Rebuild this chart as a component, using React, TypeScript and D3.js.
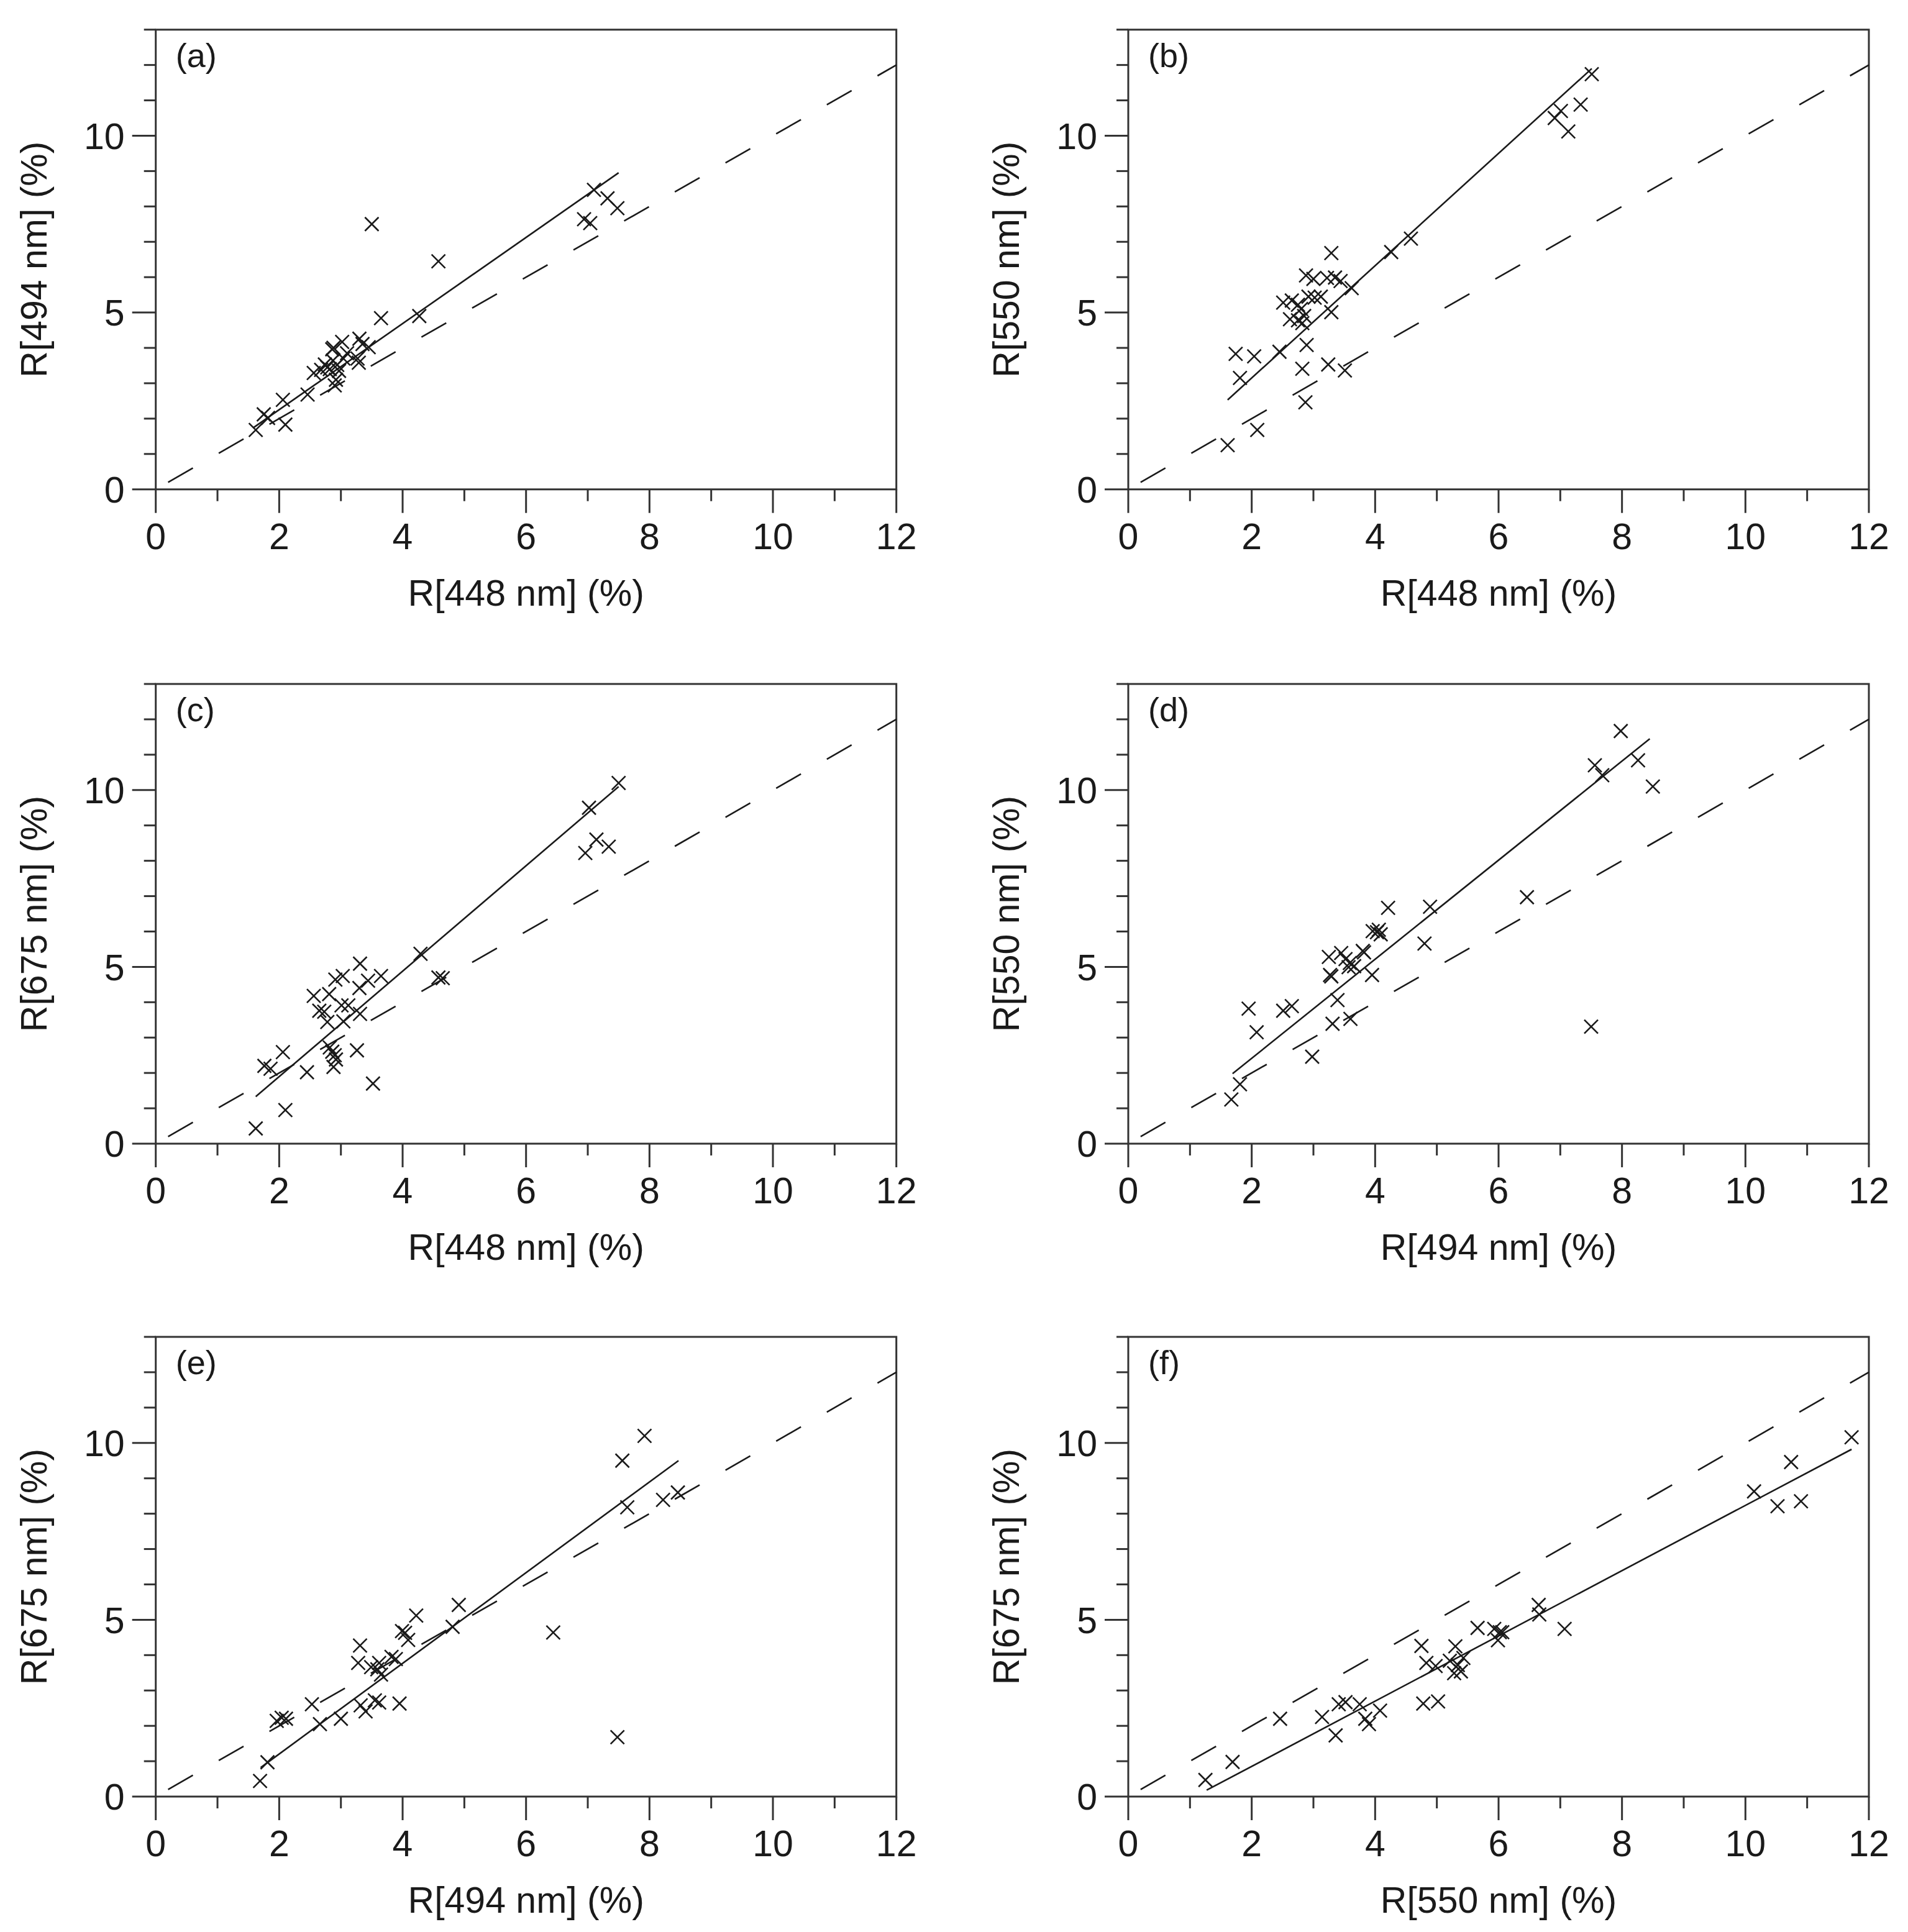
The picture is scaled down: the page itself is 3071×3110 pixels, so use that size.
import * as d3 from "d3";

// reflectance pairs, [x, y] in %
const pointsA: [number, number][] = [
  [1.62, 1.68], [1.75, 2.12], [1.82, 2.02], [2.1, 1.83], [2.06, 2.53], [2.46, 2.68],
  [2.56, 3.29], [2.9, 2.94], [2.68, 3.38], [2.74, 3.53], [2.82, 3.4], [2.86, 3.96],
  [2.87, 3.64], [2.94, 3.52], [2.97, 3.35], [3.02, 4.17], [3.04, 3.7], [3.27, 3.7],
  [3.29, 3.58], [3.3, 4.26], [3.35, 4.11], [3.45, 4.02], [2.78, 3.45], [2.92, 3.1],
  [2.88, 4.0], [3.1, 3.85], [3.65, 4.84], [4.27, 4.9], [3.5, 7.5], [4.58, 6.45],
  [6.94, 7.64], [7.04, 7.53], [7.1, 8.47], [7.32, 8.23], [7.48, 7.95],
];

const pointsB: [number, number][] = [
  [1.61, 1.25], [2.09, 1.68], [1.74, 3.83], [1.81, 3.15], [2.04, 3.76], [2.45, 3.89],
  [2.89, 4.08], [2.82, 3.41], [2.87, 2.46], [3.24, 3.53], [3.51, 3.36], [3.29, 5.01],
  [3.62, 5.69], [3.29, 6.68], [4.26, 6.71], [4.58, 7.09], [2.88, 6.05], [3.0, 5.95],
  [3.22, 5.98], [3.35, 5.99], [3.44, 5.89], [2.51, 5.28], [2.65, 5.34], [2.75, 5.22],
  [2.92, 5.45], [3.02, 5.42], [3.12, 5.45], [2.62, 4.81], [2.75, 4.78], [2.82, 4.7],
  [2.85, 4.9], [2.8, 5.1], [6.91, 10.5], [7.01, 10.7], [7.13, 10.12], [7.33, 10.88],
  [7.51, 11.74],
];

const pointsC: [number, number][] = [
  [1.62, 0.43], [2.1, 0.95], [1.76, 2.2], [1.86, 2.12], [2.06, 2.59], [2.45, 2.02],
  [2.82, 2.72], [2.86, 2.6], [2.9, 2.5], [2.92, 2.38], [2.88, 2.17], [3.26, 2.64],
  [3.52, 1.7], [2.56, 4.18], [2.81, 4.23], [2.91, 4.64], [3.03, 4.74], [3.31, 5.09],
  [3.3, 4.4], [3.44, 4.61], [3.65, 4.74], [2.65, 3.76], [2.73, 3.73], [2.78, 3.44],
  [3.01, 3.91], [3.12, 3.91], [3.04, 3.46], [3.31, 3.67], [4.29, 5.37], [4.58, 4.7],
  [4.65, 4.68], [7.02, 9.5], [7.5, 10.2], [6.96, 8.22], [7.14, 8.6], [7.34, 8.4],
];

const pointsD: [number, number][] = [
  [1.67, 1.25], [1.81, 1.68], [1.95, 3.82], [2.08, 3.15], [2.51, 3.76], [2.65, 3.89],
  [2.98, 2.46], [3.39, 4.06], [3.31, 3.39], [3.6, 3.53], [3.27, 4.77], [3.29, 4.73],
  [3.95, 4.77], [3.25, 5.28], [3.45, 5.39], [3.52, 5.22], [3.59, 5.11], [3.57, 4.99],
  [3.66, 5.02], [3.82, 5.41], [3.8, 5.45], [3.96, 6.01], [4.03, 5.98], [4.09, 5.92],
  [4.06, 6.05], [4.21, 6.67], [4.89, 6.7], [4.8, 5.66], [7.56, 10.7], [7.68, 10.42],
  [7.98, 11.67], [8.26, 10.84], [8.5, 10.1], [7.5, 3.31], [6.46, 6.97],
];

const pointsE: [number, number][] = [
  [1.69, 0.44], [1.81, 0.97], [1.96, 2.14], [2.04, 2.23], [2.11, 2.2], [2.53, 2.61],
  [2.66, 2.05], [3.0, 2.2], [3.31, 4.27], [3.28, 3.78], [3.32, 2.58], [3.4, 2.41],
  [3.55, 2.72], [3.62, 2.66], [3.95, 2.63], [3.49, 3.66], [3.59, 3.6], [3.65, 3.45],
  [3.62, 3.78], [3.82, 3.95], [3.89, 3.89], [3.99, 4.68], [4.04, 4.63], [4.09, 4.43],
  [4.22, 5.12], [4.81, 4.8], [4.91, 5.42], [6.44, 4.64], [7.48, 1.68], [7.56, 9.5],
  [7.92, 10.2], [7.64, 8.18], [8.22, 8.39], [8.46, 8.6],
];

const pointsF: [number, number][] = [
  [1.25, 0.47], [1.69, 0.98], [2.46, 2.2], [3.14, 2.25], [3.36, 1.73], [3.41, 2.61],
  [3.52, 2.67], [3.75, 2.61], [3.84, 2.2], [3.9, 2.05], [4.08, 2.43], [4.78, 2.63],
  [5.02, 2.69], [4.75, 4.26], [4.83, 3.78], [4.98, 3.69], [5.3, 4.25], [5.21, 3.84],
  [5.34, 3.72], [5.28, 3.49], [5.39, 3.54], [5.43, 3.92], [5.66, 4.77], [5.93, 4.74],
  [6.02, 4.65], [5.99, 4.42], [6.06, 4.65], [6.65, 5.42], [6.66, 5.15], [7.07, 4.74],
  [10.14, 8.63], [10.52, 8.21], [10.74, 9.46], [10.9, 8.35], [11.72, 10.16],
];

// regression lines: [slope, intercept, xFrom, xTo]
const fits: [number, number, number, number][] = [
  [1.218, -0.184, 1.58, 7.5],
  [1.588, -0.027, 1.61, 7.51],
  [1.491, -1.086, 1.62, 7.5],
  [1.401, -0.388, 1.69, 8.45],
  [1.282, -1.36, 1.7, 8.47],
  [0.9225, -0.991, 1.27, 11.72],
];

const oneToOne: [number, number] = [0.2, 12];

const tags = ["(a)", "(b)", "(c)", "(d)", "(e)", "(f)"];
const xTitles = [
  "R[448 nm] (%)", "R[448 nm] (%)",
  "R[448 nm] (%)", "R[494 nm] (%)",
  "R[494 nm] (%)", "R[550 nm] (%)",
];
const yTitles = [
  "R[494 nm] (%)", "R[550 nm] (%)",
  "R[675 nm] (%)", "R[550 nm] (%)",
  "R[675 nm] (%)", "R[675 nm] (%)",
];
const allPoints = [pointsA, pointsB, pointsC, pointsD, pointsE, pointsF];

const xTickLabels = [0, 2, 4, 6, 8, 10, 12];
const yTickLabels = [0, 5, 10];

// layout
const COLS = [250.7, 1816];
const ROWS = [787.7, 1841, 2892];
const PW = 1192;
const PH = 740;
const FONT = "'Liberation Sans', Arial, Helvetica, sans-serif";
const INK = "#1a1a1a";
const AXIS = "#333";

function Panel({
  x0, y0, points, fit, tag, xTitle, yTitle,
}: {
  x0: number; y0: number; points: [number, number][];
  fit: [number, number, number, number]; tag: string; xTitle: string; yTitle: string;
}) {
  const x = d3.scaleLinear().domain([0, 12]).range([0, PW]);
  const y = d3.scaleLinear().domain([0, 13]).range([PH, 0]);
  const line = d3.line<[number, number]>().x((d) => x(d[0])).y((d) => y(d[1]));
  const [m, b, xa, xb] = fit;
  const fitPath = line([[xa, m * xa + b], [xb, m * xb + b]]) ?? "";
  const diagPath = line([[oneToOne[0], oneToOne[0]], [oneToOne[1], oneToOne[1]]]) ?? "";

  return (
    <g transform={`translate(${x0},${y0 - PH})`}>
      {/* frame */}
      <path
        d={`M0,0H${PW}V${PH}H0Z`}
        fill="none"
        stroke={AXIS}
        strokeWidth={3}
      />
      {d3.range(0, 13).map((t) => (
        <line
          key={`xt${t}`}
          x1={x(t)} x2={x(t)} y1={PH} y2={PH + (t % 2 === 0 ? 38 : 19)}
          stroke={AXIS} strokeWidth={3}
        />
      ))}
      {d3.range(0, 14).map((t) => (
        <line
          key={`yt${t}`}
          x1={0} x2={t % 5 === 0 ? -38 : -19} y1={y(t)} y2={y(t)}
          stroke={AXIS} strokeWidth={3}
        />
      ))}
      {xTickLabels.map((t) => (
        <text key={`xl${t}`} x={x(t)} y={PH + 96} textAnchor="middle"
          fontSize={59} fontFamily={FONT} fill={INK}>{t}</text>
      ))}
      {yTickLabels.map((t) => (
        <text key={`yl${t}`} x={-50} y={y(t)} dy="0.36em" textAnchor="end"
          fontSize={59} fontFamily={FONT} fill={INK}>{t}</text>
      ))}

      <path d={diagPath} fill="none" stroke={INK} strokeWidth={2.6} strokeDasharray="46 48" />
      <path d={fitPath} fill="none" stroke={INK} strokeWidth={2.6} />

      {points.map((p, i) => (
        <path
          key={i}
          transform={`translate(${x(p[0])},${y(p[1])})`}
          d="M-11,-11L11,11M-11,11L11,-11"
          stroke={INK}
          strokeWidth={2.6}
          fill="none"
        />
      ))}

      <text x={32} y={60} fontSize={54} fontFamily={FONT} fill={INK}>{tag}</text>
      <text x={PW / 2} y={PH + 187} textAnchor="middle" fontSize={59}
        fontFamily={FONT} fill={INK}>{xTitle}</text>
      <text
        transform={`translate(-176,${PH / 2}) rotate(-90)`}
        textAnchor="middle" fontSize={59} fontFamily={FONT} fill={INK}
      >{yTitle}</text>
    </g>
  );
}

export default function App() {
  return (
    <div style={{ position: "absolute", left: 0, top: 0 }}>
      <svg width={3071} height={3110} style={{ display: "block", background: "#fff" }}>
        {allPoints.map((pts, i) => (
          <Panel
            key={tags[i]}
            x0={COLS[i % 2]}
            y0={ROWS[Math.floor(i / 2)]}
            points={pts}
            fit={fits[i]}
            tag={tags[i]}
            xTitle={xTitles[i]}
            yTitle={yTitles[i]}
          />
        ))}
      </svg>
    </div>
  );
}
